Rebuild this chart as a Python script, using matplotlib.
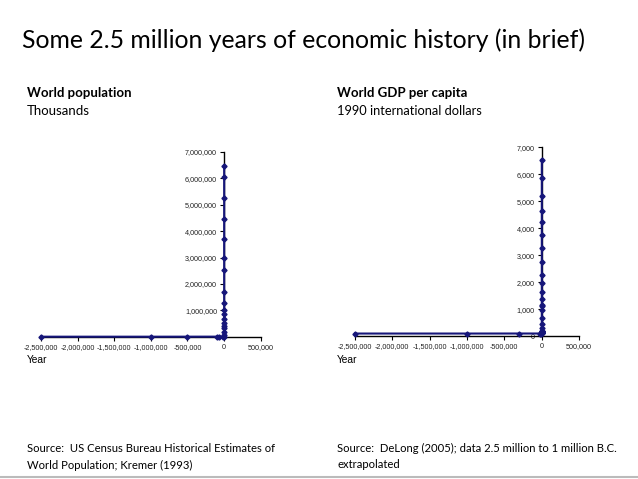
import matplotlib
matplotlib.use("Agg")
import matplotlib.pyplot as plt
from matplotlib.ticker import FuncFormatter, MultipleLocator

# World population, thousands (Census Bureau / Kremer 1993)
pop_years = [-2500000, -1000000, -500000, -100000, -70000, -10000, -5000,
             -1000, 1, 1000, 1500, 1600, 1700, 1750, 1800, 1850, 1900,
             1950, 1960, 1970, 1980, 1990, 2000, 2005]
pop_values = [100, 125, 1000, 2000, 3340, 4000, 5000,
              60000, 190000, 320000, 420000, 510000, 660000, 850000,
              1020000, 1270000, 1680000, 2510000, 2990000, 3700000,
              4450000, 5270000, 6070000, 6480000]

# World GDP per capita, 1990 international dollars (DeLong 2005)
gdp_years = [-2500000, -1000000, -300000, -25000, -10000, -5000, -4000,
             -3000, -2000, -1000, -500, -200, 1, 200, 400, 600, 800, 1000,
             1100, 1200, 1300, 1400, 1500, 1600, 1700, 1750, 1800, 1850,
             1875, 1900, 1920, 1925, 1930, 1940, 1950, 1955, 1960, 1965,
             1970, 1975, 1980, 1985, 1990, 1995, 2000]
gdp_values = [92, 92, 93, 93, 93, 130, 110, 129, 111, 157, 137, 140, 139,
              150, 145, 136, 139, 133, 128, 130, 140, 151, 138, 141, 164,
              178, 195, 300, 429, 679, 956, 1108, 1134, 1356, 1622, 1984,
              2270, 2736, 3282, 3743, 4231, 4648, 5204, 5867, 6539]

NAVY = "#16167a"
TICK_FONT = "Liberation Sans"
TEXT_FONT = ["Lato", "DejaVu Sans"]

comma = FuncFormatter(lambda v, p: f"{v:,.0f}")


def style_axes(ax, ymax, ystep, show_zero):
    ax.set_xlim(-2500000, 500000)
    ax.set_ylim(0, ymax)
    ax.xaxis.set_major_locator(MultipleLocator(500000))
    ax.yaxis.set_major_locator(MultipleLocator(ystep))
    ax.xaxis.set_major_formatter(comma)
    if show_zero:
        ax.yaxis.set_major_formatter(comma)
    else:
        ax.yaxis.set_major_formatter(
            FuncFormatter(lambda v, p: "" if v == 0 else f"{v:,.0f}"))
    ax.spines["left"].set_position(("data", 0))
    ax.spines["bottom"].set_position(("data", 0))
    ax.spines["top"].set_visible(False)
    ax.spines["right"].set_visible(False)
    for s in ("left", "bottom"):
        ax.spines[s].set_linewidth(1.0)
        ax.spines[s].set_color("black")
    ax.tick_params(axis="both", length=3, width=0.8, labelsize=5.2,
                   direction="out", pad=2)
    for lbl in ax.get_xticklabels() + ax.get_yticklabels():
        lbl.set_fontfamily(TICK_FONT)
        lbl.set_color("#222222")
    ax.patch.set_visible(False)


fig = plt.figure(figsize=(6.38, 4.79), dpi=100)

ax1 = fig.add_axes([0.0643, 0.2971, 0.3442, 0.3856])
ax1.plot(pop_years, pop_values, color=NAVY, linewidth=1.5, marker="D",
         markersize=2.6, clip_on=False, zorder=3)
style_axes(ax1, 7000000, 1000000, show_zero=False)

ax2 = fig.add_axes([0.5564, 0.2985, 0.3511, 0.3940])
ax2.plot(gdp_years, gdp_values, color=NAVY, linewidth=1.5, marker="D",
         markersize=2.6, clip_on=False, zorder=3)
style_axes(ax2, 7000, 1000, show_zero=True)

# slide text
fig.text(22 / 638, 1 - 40 / 479, "Some 2.5 million years of economic history (in brief)",
         fontsize=17.8, family=TEXT_FONT, va="center", ha="left")

fig.text(27 / 638, 1 - 93 / 479, "World population", fontsize=9.5,
         fontweight="bold", family=TEXT_FONT, va="center")
fig.text(27 / 638, 1 - 111 / 479, "Thousands", fontsize=9.5,
         family=TEXT_FONT, va="center")
fig.text(337 / 638, 1 - 93 / 479, "World GDP per capita", fontsize=9.5,
         fontweight="bold", family=TEXT_FONT, va="center")
fig.text(337 / 638, 1 - 111 / 479, "1990 international dollars", fontsize=9.3,
         family=TEXT_FONT, va="center")

fig.text(27 / 638, 1 - 360 / 479, "Year", fontsize=7.4, family=TICK_FONT,
         va="center")
fig.text(337 / 638, 1 - 360 / 479, "Year", fontsize=7.4, family=TICK_FONT,
         va="center")

fig.text(27 / 638, 1 - 448 / 479, "Source:  US Census Bureau Historical Estimates of",
         fontsize=8.1, family=TEXT_FONT, va="center")
fig.text(27 / 638, 1 - 465 / 479, "World Population; Kremer (1993)",
         fontsize=8.1, family=TEXT_FONT, va="center")
fig.text(337 / 638, 1 - 448 / 479, "Source:  DeLong (2005); data 2.5 million to 1 million B.C.",
         fontsize=8.1, family=TEXT_FONT, va="center")
fig.text(337 / 638, 1 - 465 / 479, "extrapolated",
         fontsize=8.1, family=TEXT_FONT, va="center")

fig.add_artist(plt.Line2D([0, 1], [1 - 477 / 479] * 2, color="#bbbbbb",
                          linewidth=1.5, transform=fig.transFigure))

fig.savefig("out.png", dpi=100)
